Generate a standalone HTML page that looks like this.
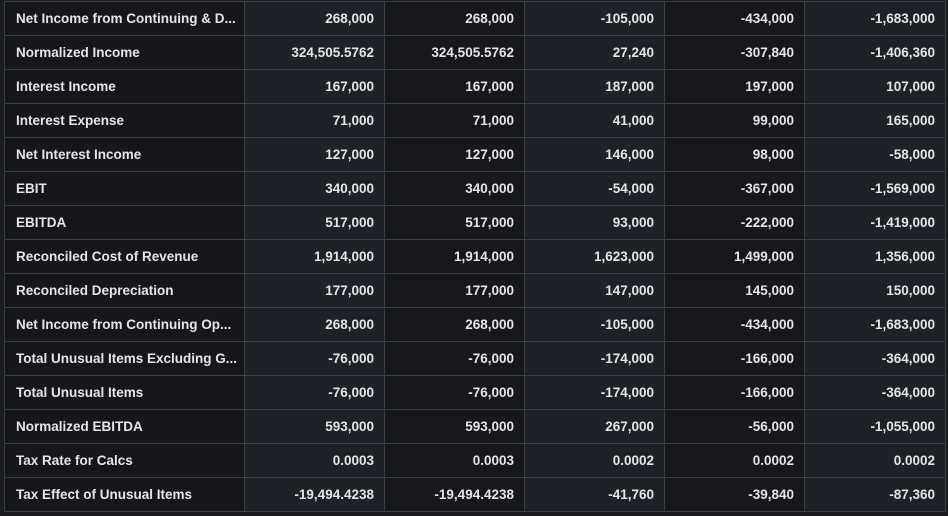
<!DOCTYPE html>
<html><head><meta charset="utf-8"><style>
html,body{margin:0;padding:0;background:#1b1d21;width:948px;height:516px;overflow:hidden}
table{position:absolute;left:4px;top:1px;border-collapse:collapse;table-layout:fixed;width:941px;font-family:"Liberation Sans",sans-serif;font-size:13.5px;font-weight:bold;color:#e4e5e7}
td{height:34px;border:1px solid #3a3f45;padding:0 10px;white-space:nowrap;box-sizing:border-box;overflow:hidden}
td.l{text-align:left;background:#15171a;padding-left:11px}
td.v{text-align:right}
td.a{background:#1e2127}
td.b{background:#16181b}
</style></head><body>
<table>
<colgroup><col style="width:240px"><col style="width:140px"><col style="width:140px"><col style="width:140px"><col style="width:140px"><col style="width:141px"></colgroup>
<tbody id="tb"></tbody></table>
<script>
const labels=["Net Income from Continuing & D...","Normalized Income","Interest Income","Interest Expense","Net Interest Income","EBIT","EBITDA","Reconciled Cost of Revenue","Reconciled Depreciation","Net Income from Continuing Op...","Total Unusual Items Excluding G...","Total Unusual Items","Normalized EBITDA","Tax Rate for Calcs","Tax Effect of Unusual Items"];
const values=[
["268,000","268,000","-105,000","-434,000","-1,683,000"],
["324,505.5762","324,505.5762","27,240","-307,840","-1,406,360"],
["167,000","167,000","187,000","197,000","107,000"],
["71,000","71,000","41,000","99,000","165,000"],
["127,000","127,000","146,000","98,000","-58,000"],
["340,000","340,000","-54,000","-367,000","-1,569,000"],
["517,000","517,000","93,000","-222,000","-1,419,000"],
["1,914,000","1,914,000","1,623,000","1,499,000","1,356,000"],
["177,000","177,000","147,000","145,000","150,000"],
["268,000","268,000","-105,000","-434,000","-1,683,000"],
["-76,000","-76,000","-174,000","-166,000","-364,000"],
["-76,000","-76,000","-174,000","-166,000","-364,000"],
["593,000","593,000","267,000","-56,000","-1,055,000"],
["0.0003","0.0003","0.0002","0.0002","0.0002"],
["-19,494.4238","-19,494.4238","-41,760","-39,840","-87,360"]];
const tb=document.getElementById('tb');
labels.forEach((lab,i)=>{
 const tr=document.createElement('tr');
 
 
 const td=document.createElement('td');td.className='l';td.textContent=lab;
 
 
 tr.appendChild(td);
 values[i].forEach((v,j)=>{
  const c=document.createElement('td');c.className='v '+(j%2==0?'a':'b');c.textContent=v;
  
  
  tr.appendChild(c);
 });
 tb.appendChild(tr);
});
</script>
</body></html>
